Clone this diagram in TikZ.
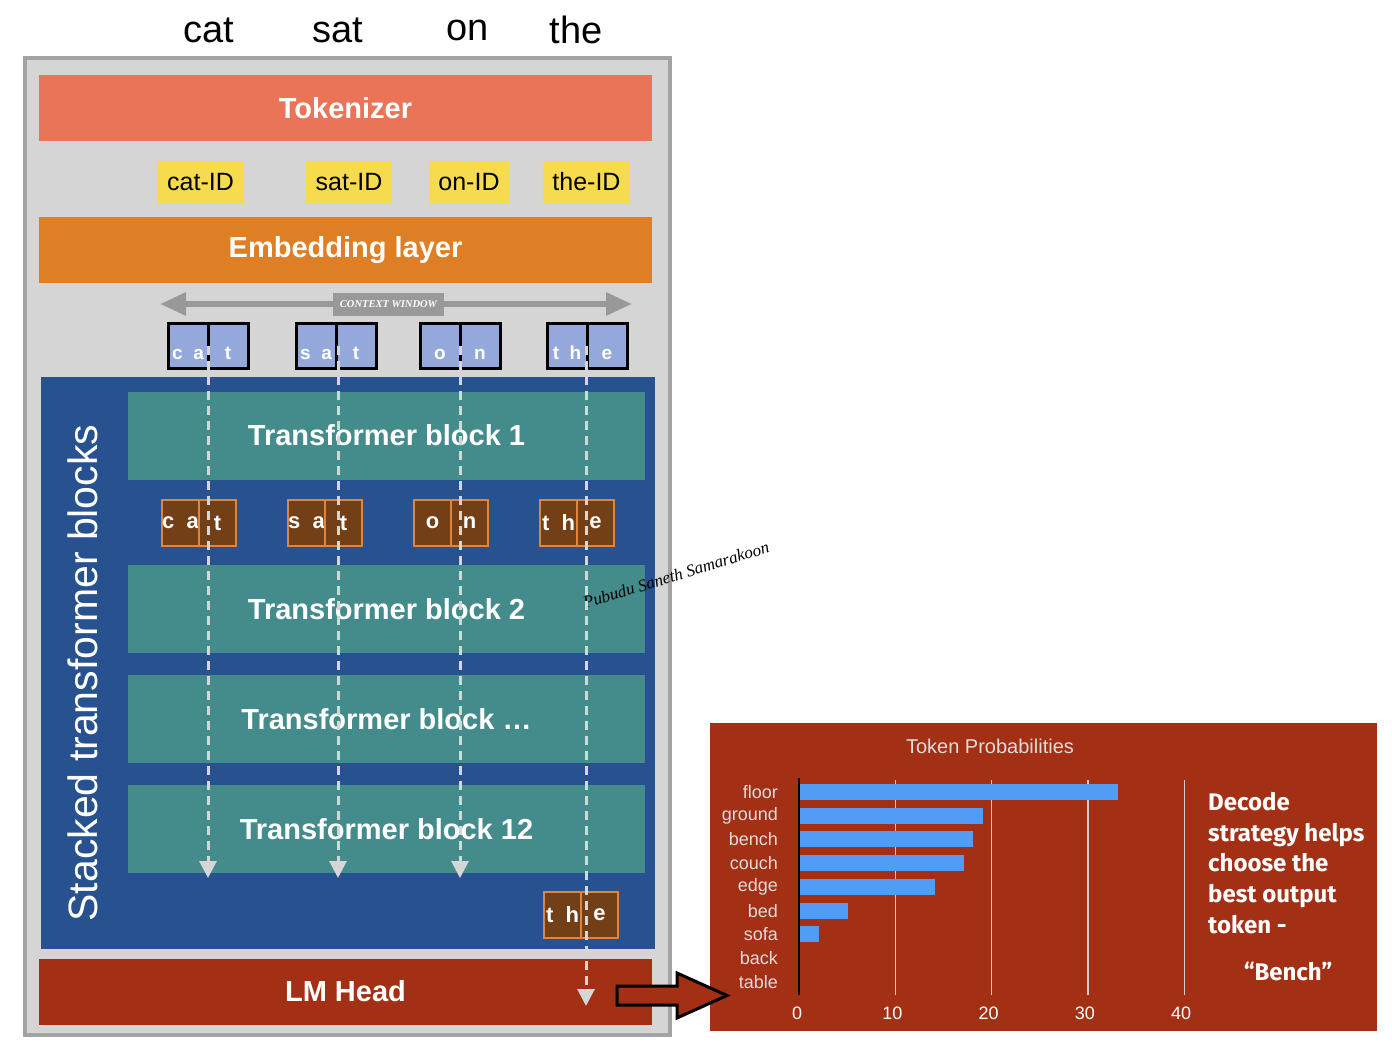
\documentclass[tikz,border=0pt]{standalone}
\usepackage{fontspec}
\setmainfont{Liberation Sans}
\newfontfamily\noteFont{Fira Sans}
\newfontfamily\tagFont{Liberation Serif}
\usetikzlibrary{arrows.meta,positioning}

\begin{document}
\begin{tikzpicture}[x=1pt,y=-1pt,
  layer/.style={minimum width=613pt,minimum height=66pt,inner sep=0pt,text=white,font=\fontsize{29}{31}\selectfont\bfseries},
  tblock/.style={fill=blockteal,minimum width=517pt,minimum height=88pt,inner sep=0pt,text=white,font=\fontsize{29}{31}\selectfont\bfseries},
  idbox/.style={fill=idyellow,minimum height=42pt,inner xsep=7pt,inner ysep=4pt,font=\fontsize{25}{27}\selectfont},
  inhalf/.style={fill=tokblue,draw=black,line width=3pt,outer sep=0pt,minimum width=40pt,minimum height=45pt,inner sep=0pt,text=white,font=\fontsize{19}{20}\selectfont\bfseries},
  outhalf/.style={fill=tokbrown,draw=tokedge,line width=1.5pt,outer sep=0pt,minimum width=37pt,minimum height=46pt,inner sep=0pt,text=white,font=\fontsize{22}{23}\selectfont\bfseries},
  flow/.style={draw=flowgray,line width=3pt,dash pattern=on 9pt off 6pt,-{Triangle[width=17pt,length=17pt]}},
  word/.style={font=\fontsize{38}{40}\selectfont},
  ylab/.style={anchor=east,text=labgray,inner sep=0pt,font=\fontsize{18}{20}\selectfont},
  xlab/.style={text=white,font=\fontsize{18}{20}\selectfont}]
% Define colors
\definecolor{framegray}{HTML}{D5D5D5}
\definecolor{frameedge}{HTML}{A3A3A3}
\definecolor{tokred}{HTML}{EA7458}
\definecolor{idyellow}{HTML}{F6DB4E}
\definecolor{embedorange}{HTML}{DE7E25}
\definecolor{ctxgray}{HTML}{999999}
\definecolor{tokblue}{HTML}{95A8DB}
\definecolor{panelblue}{HTML}{285190}
\definecolor{blockteal}{HTML}{448B8B}
\definecolor{tokbrown}{HTML}{733F16}
\definecolor{tokedge}{HTML}{E2853B}
\definecolor{flowgray}{HTML}{D6D6D6}
\definecolor{lmred}{HTML}{A32F15}
\definecolor{barblue}{HTML}{529CF6}
\definecolor{labgray}{HTML}{DDDDDD}

\useasboundingbox (0,0) rectangle (1392,1043);

% Input words
\node[word] (wcat) at (209,30) {cat};
\node[word] (wsat) at (338,30) {sat};
\node[word] (won) at (468,30) {on};
\node[word] (wthe) at (576,30) {the};

% Draw model frame and layers
\draw[line width=4pt,draw=frameedge,fill=framegray] (25,58) rectangle (670,1035);
\node[layer,fill=tokred] (tokenizer) at (345.5,108) {Tokenizer};
\node[idbox,minimum width=87pt] (idcat) at (200.5,182) {cat-ID};
\node[idbox,minimum width=86pt] (idsat) at (349,182) {sat-ID};
\node[idbox,minimum width=80pt] (idon) at (469,182) {on-ID};
\node[idbox,minimum width=87pt] (idthe) at (586.5,182) {the-ID};
\node[layer,fill=embedorange] (embed) at (345.5,250) {Embedding layer};

% Context window
\coordinate (ctxL) at (160,304);
\coordinate (ctxR) at (632,304);
\draw[draw=ctxgray,line width=6pt,{Triangle[width=22pt,length=26pt]}-{Triangle[width=22pt,length=26pt]}] (ctxL) -- (ctxR);
\node[fill=ctxgray,minimum width=111pt,minimum height=23pt,inner sep=0pt,text=white,font=\tagFont\fontsize{10.5}{11}\selectfont\bfseries\itshape] (ctx) at (388.5,304) {CONTEXT WINDOW};

% Input tokens
\foreach \nm/\xx/\lt/\rt in {cat/208/c\;\;a/t, sat/336/s\;\;a/t, on/460/o/n, the/587/t\;\;h/e} {
  \node[inhalf,anchor=east] (\nm-inL) at (\xx,346) {\smash{\raisebox{-13pt}{\lt}}};
  \node[inhalf,anchor=west] (\nm-inR) at (\xx,346) {\smash{\raisebox{-13pt}{\rt}}};
}

% Stacked transformer blocks
\fill[panelblue] (41,377) rectangle (655,949);
\node[rotate=90,text=white,font=\fontsize{41}{42}\selectfont] (stacklbl) at (83,673) {Stacked transformer blocks};
\node[tblock] (block1) at (386.5,435.5) {Transformer block 1};
\node[tblock] (block2) at (386.5,609) {Transformer block 2};
\node[tblock] (blockn) at (386.5,719) {Transformer block \ldots};
\node[tblock] (block12) at (386.5,829) {Transformer block 12};

% Output tokens of block 1
\foreach \nm/\xx/\lt/\rt in {cat/199/c\;\;a/t, sat/325/s\;\;a/t, on/451/o/n, the/577/t\;\;h/e} {
  \node[outhalf,anchor=east] (\nm-outL) at (\xx,523) {\lt};
  \node[outhalf,anchor=west] (\nm-outR) at (\xx,523) {\rt};
}
\node[outhalf,anchor=east] (last-outL) at (581,915) {t\;\;h};
\node[outhalf,anchor=west] (last-outR) at (581,915) {e};

% LM head
\node[layer,fill=lmred] (lmhead) at (345.5,991.5) {LM Head};

% Signature
\node[rotate=17,font=\tagFont\fontsize{17}{17}\selectfont\itshape] (sig) at (676,575) {Pubudu Saneth Samarakoon};

% Draw token flows
\coordinate (catend) at (208,878);
\coordinate (satend) at (338,878);
\coordinate (onend) at (460,878);
\coordinate (theend) at (586,1006);
\draw[flow] (cat-inR.west) -- (catend);
\draw[flow] (sat-inR.west) ++(2,0) -- (satend);
\draw[flow] (on-inR.west) -- (onend);
\draw[flow] (the-inR.west) ++(-1,0) -- (theend);

% Token probability chart
\fill[lmred] (710,723) rectangle (1377,1031);
\node[text=labgray,font=\fontsize{20}{22}\selectfont] (charttitle) at (990,746) {Token Probabilities};
\foreach \v in {10,20,30,40} {
  \draw[draw=labgray!85!gray,line width=1.2pt] (799+9.63*\v,780) -- (799+9.63*\v,995);
  \node[xlab] (tick\v) at (799+9.63*\v-3,1013) {\v};
}
\node[xlab] (tick0) at (797,1013) {0};
\foreach \w [count=\i from 0] in {33,19,18,17,14,5,2} {
  \fill[barblue] (800,784+23.7*\i) rectangle (800+9.63*\w,800+23.7*\i);
}
\foreach \lab [count=\i from 0] in {floor,ground,bench,couch,edge,bed,sofa,back,table} {
  \node[ylab] (lab\i) at (778,792+23.75*\i) {\lab};
}
\draw[black,line width=1.5pt] (799,778) -- (799,995);
\node[anchor=north west,align=left,text=white,inner sep=0pt,font=\noteFont\fontsize{24}{30.7}\selectfont\bfseries] (decode) at (1208,792) {Decode\\strategy helps\\choose the\\best output\\token -};
\node[text=white,font=\noteFont\fontsize{24}{26}\selectfont\bfseries] (bench) at (1288,972) {“Bench”};

% Output arrow
\draw[black,line width=3pt,fill=lmred,line join=miter] (617,986) -- (677,986) -- (677,973) -- (727,995.5) -- (677,1018) -- (677,1005) -- (617,1005) -- cycle;
\end{tikzpicture}
\end{document}
